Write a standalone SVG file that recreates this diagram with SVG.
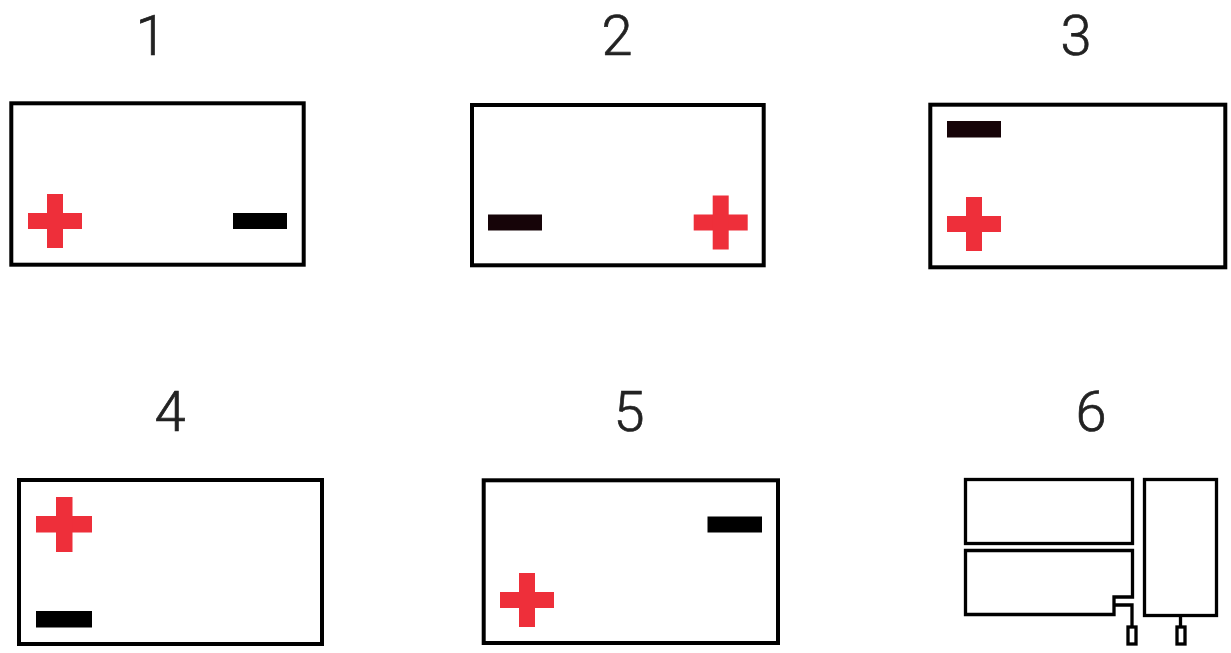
<svg xmlns="http://www.w3.org/2000/svg" width="1231" height="653" viewBox="0 0 1231 653">
<defs>
<style>
.box{fill:#fff;stroke:#000;stroke-width:4}
.thin{fill:none;stroke:#000;stroke-width:3.3}
.plus{fill:#ee2f3a}
.minus{fill:#000}
.dark{fill:#160408}
.num{font-family:Roboto,"Noto Sans",sans-serif;font-size:56px;font-weight:300;fill:#222;stroke:#222;stroke-width:.7;text-anchor:middle}
</style>
<g id="p"><rect class="plus" x="0" y="19" width="54" height="16"/><rect class="plus" x="19" y="0" width="16" height="54"/></g>
</defs>
<rect width="1231" height="653" fill="#fff"/>
<g id="node-1"><text class="num" x="151" y="55">1</text><rect class="box" x="11.300" y="103.300" width="292.400" height="161.400"/><use href="#p" x="28" y="194"/><rect class="minus" x="233" y="213" width="54" height="16"/></g>
<g id="node-2"><text class="num" x="617" y="55">2</text><rect class="box" x="472" y="105" width="291.700" height="160.300"/><rect class="dark" x="488" y="214.500" width="54" height="16"/><use href="#p" x="693.700" y="195.500"/></g>
<g id="node-3"><text class="num" x="1076" y="55">3</text><rect class="box" x="930.300" y="104.700" width="295" height="162.600"/><rect class="dark" x="947" y="121" width="54" height="16.500"/><use href="#p" x="947" y="197"/></g>
<g id="node-4"><text class="num" x="170" y="431">4</text><rect class="box" x="19" y="480" width="303" height="164"/><rect class="plus" x="36" y="516" width="56" height="16.500"/><rect class="plus" x="56" y="497" width="16.500" height="55"/><rect class="minus" x="36" y="611" width="56" height="16.500"/></g>
<g id="node-5"><text class="num" x="629" y="431">5</text><rect class="box" x="483.700" y="480.300" width="294.300" height="162.700"/><rect class="minus" x="707.500" y="516.500" width="54.500" height="16"/><use href="#p" x="500" y="573"/></g>
<g id="node-6"><text class="num" x="1091" y="431">6</text>
<rect class="thin" x="965.500" y="479.500" width="167" height="64"/>
<path class="thin" d="M965.500 550.500H1132.500V597H1114V614.500H965.500Z"/>
<rect class="thin" x="1144.500" y="479.500" width="72" height="136"/>
<rect class="thin" x="1128" y="627" width="8" height="17"/>
<rect class="thin" x="1177" y="627" width="8" height="17"/>
</g>
<g id="connectors">
<path class="thin" d="M1114 605H1132V627"/>
<path class="thin" d="M1180.500 616V627"/>
</g>
</svg>
